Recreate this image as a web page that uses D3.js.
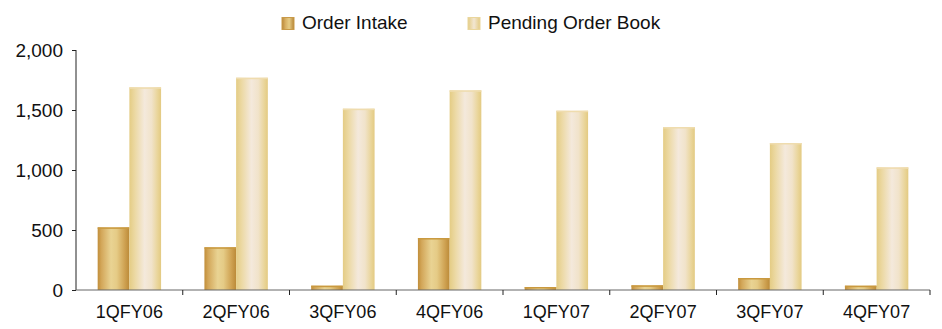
<!DOCTYPE html>
<html>
<head>
<meta charset="utf-8">
<script src="https://cdn.jsdelivr.net/npm/d3@7"></script>
<style>
  html, body { margin: 0; padding: 0; background: #fff; }
  svg { display: block; font-family: "Liberation Sans", Arial, sans-serif; }
</style>
</head>
<body>
<svg id="chart" width="942" height="329"></svg>
<script>
const categories = ["1QFY06","2QFY06","3QFY06","4QFY06","1QFY07","2QFY07","3QFY07","4QFY07"];
const seriesNames = ["Order Intake","Pending Order Book"];
const orderIntake = [522, 356, 36, 433, 25, 39, 100, 36];
const pendingOrderBook = [1689, 1769, 1511, 1664, 1494, 1358, 1225, 1022];
const yTicks = [0, 500, 1000, 1500, 2000];

const svg = d3.select("#chart");
const plotLeft = 76, plotRight = 930, plotTop = 50, plotBottom = 290;

const defs = svg.append("defs");
function grad(id, stops) {
  const g = defs.append("linearGradient").attr("id", id)
    .attr("x1", "0%").attr("x2", "100%").attr("y1", "0%").attr("y2", "0%");
  stops.forEach(s => g.append("stop").attr("offset", s[0]).attr("stop-color", s[1]));
}
grad("gOI", [["0%","#c18e3a"],["12%","#d3a75a"],["42%","#e9d393"],["60%","#e5cb86"],["85%","#cfa252"],["100%","#bb8a38"]]);
grad("gPB", [["0%","#e4cc84"],["18%","#ecd9a4"],["48%","#f4e9dc"],["70%","#f1e3ca"],["90%","#e9d497"],["100%","#e3ca82"]]);
grad("gOIl", [["0%","#b9873a"],["30%","#d8b064"],["60%","#e6cc86"],["100%","#b68536"]]);
grad("gPBl", [["0%","#e4cc84"],["50%","#f2e6d2"],["100%","#e3ca82"]]);

const x = d3.scaleBand().domain(categories).range([plotLeft, plotRight]).paddingInner(0.406).paddingOuter(0.203);
const xs = d3.scaleBand().domain(seriesNames).range([0, x.bandwidth()]);
const y = d3.scaleLinear().domain([0, 2000]).range([plotBottom, plotTop]);

const data = categories.map((c, i) => ({c, vals: [orderIntake[i], pendingOrderBook[i]]}));
const fills = ["url(#gOI)", "url(#gPB)"];
const caps = ["#c9993f", "#efdcae"];

const g = svg.append("g");
data.forEach(d => {
  d.vals.forEach((v, j) => {
    const bx = x(d.c) + xs(seriesNames[j]);
    const by = y(v);
    const h = y(0) - y(v);
    g.append("rect").attr("x", bx).attr("y", by).attr("width", xs.bandwidth()).attr("height", h)
      .attr("fill", fills[j]);
    g.append("rect").attr("x", bx).attr("y", by).attr("width", xs.bandwidth()).attr("height", Math.min(1.5, h))
      .attr("fill", caps[j]);
  });
});

// Y axis
const yAxis = d3.axisLeft(y).tickValues(yTicks).tickFormat(d3.format(",")).tickSize(4).tickPadding(9);
const ya = svg.append("g").attr("transform", `translate(${plotLeft},0)`).call(yAxis);
ya.select(".domain").attr("d", `M0,${plotTop}V${plotBottom}`).attr("stroke", "#222");
ya.selectAll(".tick line").attr("stroke", "#222");
ya.selectAll("text").attr("font-size", 19).attr("fill", "#111").attr("font-family", '"Liberation Sans", Arial, sans-serif');

// X axis
const xAxis = d3.axisBottom(x).tickSize(0).tickPadding(15);
const xa = svg.append("g").attr("transform", `translate(0,${plotBottom})`).call(xAxis);
xa.select(".domain").attr("d", `M${plotLeft},0H${plotRight}`).attr("stroke", "#666");
xa.selectAll("text").attr("font-size", 18).attr("fill", "#111").attr("font-family", '"Liberation Sans", Arial, sans-serif');
const bounds = categories.map(c => x(c) - x.step() * x.paddingInner() / 2).concat([plotRight]);
xa.selectAll(".sep").data(bounds.slice(1)).enter().append("line")
  .attr("class", "sep").attr("x1", d => d).attr("x2", d => d).attr("y1", 0).attr("y2", 5).attr("stroke", "#222");

// Legend
const legend = svg.append("g");
const legX = [282, 468];
seriesNames.forEach((n, j) => {
  legend.append("rect").attr("x", legX[j]).attr("y", 17.5).attr("width", 12).attr("height", 12)
    .attr("fill", j === 0 ? "url(#gOIl)" : "url(#gPBl)").attr("stroke", j === 0 ? "#c99a48" : "#ead69c").attr("stroke-width", 1);
  legend.append("text").attr("x", legX[j] + 20).attr("y", 29).attr("font-size", 19).attr("fill", "#111").text(n);
});
</script>
</body>
</html>
